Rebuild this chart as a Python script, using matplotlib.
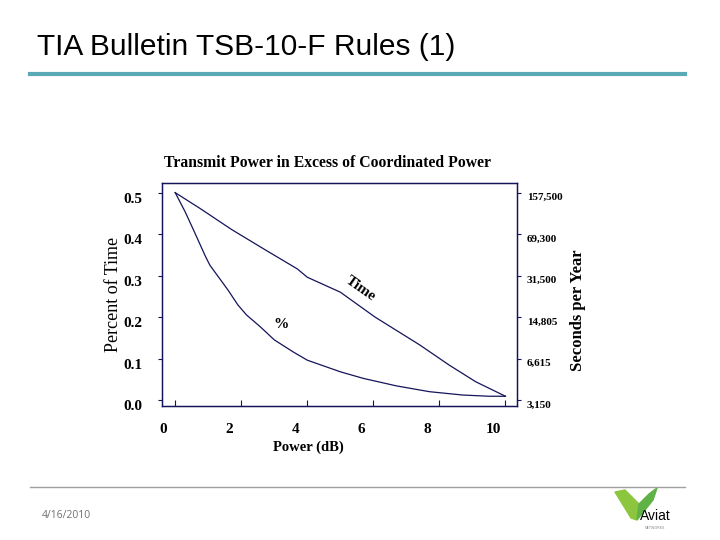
import numpy as np
import matplotlib
matplotlib.use('Agg')
import matplotlib.pyplot as plt
import matplotlib.transforms as mtrans
from matplotlib.patches import Polygon

# data
pct_x = [0, 0.3, 0.6, 0.9, 1.05, 1.6, 1.9, 2.16, 2.57, 3.0, 3.57, 4.0, 5.0, 5.7, 6.7, 7.7, 8.7, 9.5, 10]
pct_y = [0.5, 0.454, 0.402, 0.349, 0.325, 0.265, 0.229, 0.205, 0.177, 0.145, 0.116, 0.096, 0.068, 0.052, 0.034, 0.020, 0.012, 0.009, 0.009]

time_x = [0, 0.75, 1.71, 2.77, 3.7, 4.0, 5.0, 6.05, 7.4, 8.3, 9.1, 10]
time_y = [0.5, 0.462, 0.411, 0.36, 0.316, 0.296, 0.260, 0.200, 0.133, 0.084, 0.044, 0.009]

x_ticks = [0, 2, 4, 6, 8, 10]
y_ticks = [0.0, 0.1, 0.2, 0.3, 0.4, 0.5]
y_labels = ['0.0', '0.1', '0.2', '0.3', '0.4', '0.5']
sec_labels = ['3,150', '6,615', '14,805', '31,500', '69,300', '157,500']

navy = '#14145a'
serif = 'Liberation Serif'

fig = plt.figure(figsize=(7.2, 5.4), dpi=100)

# slide furniture
fig.text(37/720, 1 - 47/540, 'TIA Bulletin TSB-10-F Rules (1)', fontsize=21.5,
         family='Liberation Sans', va='center', ha='left')
fig.add_artist(plt.Line2D([30/720, 685/720], [1 - 74/540, 1 - 74/540],
                          color='#5aa9b4', lw=3, transform=fig.transFigure))
fig.add_artist(plt.Line2D([30/720, 685/720], [1 - 487/540, 1 - 487/540],
                          color='#a0a0a0', lw=1, transform=fig.transFigure))
fig.text(42/720, 1 - 516/540, '4/16/2010', fontsize=7.5, color='#707070',
         family='Open Sans', va='center')

# logo
logo = fig.add_axes([605/720, 1 - 532/540, 80/720, 45/540])
logo.set_xlim(0, 80)
logo.set_ylim(0, 45)
logo.axis('off')
logo.add_patch(Polygon([[10, 40], [20, 42], [34, 28], [32, 12], [26, 14]], color='#8cc63f'))
logo.add_patch(Polygon([[34, 28], [44, 38], [52, 44], [48, 32], [40, 22], [32, 12]], color='#5fb246'))
logo.text(50, 16, 'Aviat', fontsize=10, family='Liberation Sans', ha='center', va='center')
logo.text(50, 4, 'NETWORKS', fontsize=2.5, color='#888888', ha='center', va='center')

ax = fig.add_axes([162/720, 1 - 406/540, 355/720, (406 - 182.7)/540])
ax.plot(pct_x, pct_y, color=navy, lw=0.9)
ax.plot(time_x, time_y, color=navy, lw=0.9)
ax.set_xlim(-0.40, 10.35)
ax.set_ylim(-0.0145, 0.524)

ax.set_xticks(x_ticks)
ax.set_xticklabels([str(v) for v in x_ticks], fontsize=11, fontweight='bold', family=serif)
ax.set_yticks(y_ticks)
ax.set_yticklabels(y_labels, fontsize=11, fontweight='bold', family=serif)
ax.tick_params(axis='x', direction='in', length=4, pad=12, color=navy)
ax.tick_params(axis='y', direction='out', length=3, pad=11, color=navy)
for lab in ax.get_xticklabels():
    lab.set_transform(lab.get_transform() + mtrans.ScaledTranslation(-12/100, 0, fig.dpi_scale_trans))
for lab in ax.get_yticklabels():
    lab.set_transform(lab.get_transform() + mtrans.ScaledTranslation(0, -5/100, fig.dpi_scale_trans))
for s in ax.spines.values():
    s.set_color(navy)
    s.set_linewidth(1)

fig.text(328/720, 1 - 163/540, 'Transmit Power in Excess of Coordinated Power', fontsize=11.3,
         fontweight='bold', family=serif, ha='center', va='center')
ax.set_xlabel('Power (dB)', fontsize=10.5, fontweight='bold', family=serif)
ax.xaxis.set_label_coords(0.411, -0.155)
ax.set_ylabel('Percent of Time', fontsize=13, family=serif)
ax.yaxis.set_label_coords(-0.112, 0.5)

ax.text(3.2, 0.183, '%', fontsize=11, fontweight='bold', family=serif, ha='center', va='center')
ax.text(5.6, 0.268, 'Time', fontsize=11, fontweight='bold', family=serif, ha='center',
        va='center', rotation=-35)

ax2 = ax.twinx()
ax2.set_ylim(ax.get_ylim())
ax2.set_yticks(y_ticks)
ax2.set_yticklabels(sec_labels, fontsize=8, fontweight='bold', family=serif)
ax2.tick_params(axis='y', direction='out', length=3, pad=4, color=navy)
for lab in ax2.get_yticklabels():
    lab.set_transform(lab.get_transform() + mtrans.ScaledTranslation(0, -4/100, fig.dpi_scale_trans))
for s in ax2.spines.values():
    s.set_color(navy)
ax2.set_ylabel('Seconds per Year', fontsize=12, fontweight='bold', family=serif)
ax2.yaxis.set_label_coords(1.148, 0.43)

fig.savefig('out.png', dpi=100)
